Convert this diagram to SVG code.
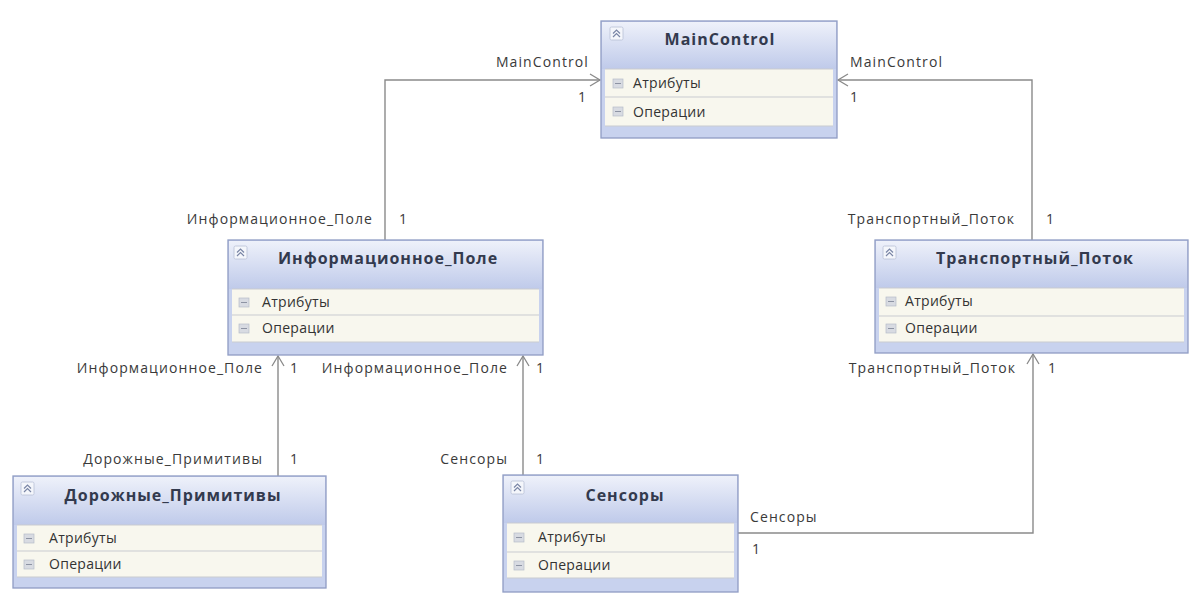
<svg xmlns="http://www.w3.org/2000/svg" width="1197" height="612" viewBox="0 0 1197 612">
<defs>
<linearGradient id="hdr" x1="0" y1="0" x2="0" y2="1">
<stop offset="0" stop-color="#eef1fa"/>
<stop offset="1" stop-color="#bfcaea"/>
</linearGradient>
<marker id="open" markerWidth="14" markerHeight="14" refX="11" refY="7" orient="auto" markerUnits="userSpaceOnUse">
<polyline points="1,1 11,7 1,13" fill="none" stroke="#8a8a8a" stroke-width="1.3"/>
</marker>
<g id="icon">
<rect x="0" y="0" width="13" height="13" rx="1.5" fill="#f4f6fb" stroke="#b8c0d6" stroke-width="0.8"/>
<polyline points="3,6.5 6.5,3 10,6.5" fill="none" stroke="#7a86a6" stroke-width="1.2"/>
<polyline points="3,10 6.5,6.5 10,10" fill="none" stroke="#7a86a6" stroke-width="1.2"/>
</g>
<g id="minus">
<rect x="0" y="0" width="10" height="9" fill="#d8dbe2" stroke="#b7bcc8" stroke-width="0.7"/>
<line x1="2" y1="4.5" x2="8" y2="4.5" stroke="#8d93a3" stroke-width="1"/>
</g>
</defs>
<style>
.frame{fill:#c8d2ee;stroke:#8f9cc4;stroke-width:1.3}
.hdr{fill:url(#hdr)}
.row{fill:#f8f7ee}
.sep{stroke:#c9cbd0;stroke-width:1}
.title{font-family:"Open Sans","DejaVu Sans",sans-serif;font-size:16px;font-weight:bold;letter-spacing:1px;fill:#333a4e;text-anchor:middle}
.item{font-family:"Open Sans","DejaVu Sans",sans-serif;font-size:14px;letter-spacing:0.3px;fill:#333}
.lbl{font-family:"Open Sans","DejaVu Sans",sans-serif;font-size:14px;letter-spacing:1.1px;fill:#3a3a3a}
.end{text-anchor:end}
.conn{fill:none;stroke:#8a8a8a;stroke-width:1.4}
</style>
<rect width="1197" height="612" fill="#ffffff"/>

<g id="connectors">
<path class="conn" d="M385,240 V80 H600" marker-end="url(#open)"/>
<path class="conn" d="M1032,240 V80 H838" marker-end="url(#open)"/>
<path class="conn" d="M278,476 V356" marker-end="url(#open)"/>
<path class="conn" d="M523,475 V356" marker-end="url(#open)"/>
<path class="conn" d="M738,533 H1033 V354" marker-end="url(#open)"/>
<text class="lbl end" x="589" y="67">MainControl</text>
<text class="lbl" x="578" y="102">1</text>
<text class="lbl" x="850" y="67">MainControl</text>
<text class="lbl" x="850" y="102">1</text>
<text class="lbl end" x="373" y="224">Информационное_Поле</text>
<text class="lbl" x="399" y="224">1</text>
<text class="lbl end" x="1015" y="224">Транспортный_Поток</text>
<text class="lbl" x="1046" y="224">1</text>
<text class="lbl end" x="263" y="373">Информационное_Поле</text>
<text class="lbl" x="290" y="373">1</text>
<text class="lbl end" x="508" y="373">Информационное_Поле</text>
<text class="lbl" x="536" y="373">1</text>
<text class="lbl end" x="1016" y="373">Транспортный_Поток</text>
<text class="lbl" x="1048" y="373">1</text>
<text class="lbl end" x="263" y="464">Дорожные_Примитивы</text>
<text class="lbl" x="290" y="464">1</text>
<text class="lbl end" x="508" y="464">Сенсоры</text>
<text class="lbl" x="536" y="464">1</text>
<text class="lbl" x="750" y="522">Сенсоры</text>
<text class="lbl" x="752" y="554">1</text>
</g>

<g id="MainControl" transform="translate(601,21)">
<rect class="frame" x="0" y="0" width="236" height="117"/>
<rect class="hdr" x="1" y="1" width="234" height="47"/>
<rect class="row" x="4" y="48" width="228" height="57"/>
<line class="sep" x1="4" y1="48" x2="232" y2="48"/>
<line class="sep" x1="4" y1="76" x2="232" y2="76"/>
<line class="sep" x1="4" y1="105" x2="232" y2="105"/>
<use href="#icon" x="9" y="6"/>
<text class="title" x="119" y="24">MainControl</text>
<use href="#minus" x="12" y="58"/>
<text class="item" x="32" y="67">Атрибуты</text>
<use href="#minus" x="12" y="86"/>
<text class="item" x="32" y="96">Операции</text>
</g>

<g id="Informatsionnoe_Pole" transform="translate(228,240)">
<rect class="frame" x="0" y="0" width="315" height="115"/>
<rect class="hdr" x="1" y="1" width="313" height="48"/>
<rect class="row" x="4" y="49" width="307" height="53"/>
<line class="sep" x1="4" y1="49" x2="311" y2="49"/>
<line class="sep" x1="4" y1="75" x2="311" y2="75"/>
<line class="sep" x1="4" y1="102" x2="311" y2="102"/>
<use href="#icon" x="6" y="6"/>
<text class="title" x="160" y="24">Информационное_Поле</text>
<use href="#minus" x="11" y="58"/>
<text class="item" x="34" y="67">Атрибуты</text>
<use href="#minus" x="11" y="84"/>
<text class="item" x="34" y="93">Операции</text>
</g>

<g id="Transportny_Potok" transform="translate(875,240)">
<rect class="frame" x="0" y="0" width="313" height="113"/>
<rect class="hdr" x="1" y="1" width="311" height="47"/>
<rect class="row" x="4" y="48" width="305" height="54"/>
<line class="sep" x1="4" y1="48" x2="309" y2="48"/>
<line class="sep" x1="4" y1="76" x2="309" y2="76"/>
<line class="sep" x1="4" y1="102" x2="309" y2="102"/>
<use href="#icon" x="8" y="6"/>
<text class="title" x="160" y="24">Транспортный_Поток</text>
<use href="#minus" x="11" y="57"/>
<text class="item" x="30" y="66">Атрибуты</text>
<use href="#minus" x="11" y="84"/>
<text class="item" x="30" y="93">Операции</text>
</g>

<g id="Dorozhnye_Primitivy" transform="translate(13,476)">
<rect class="frame" x="0" y="0" width="313" height="112"/>
<rect class="hdr" x="1" y="1" width="311" height="48"/>
<rect class="row" x="4" y="49" width="305" height="52"/>
<line class="sep" x1="4" y1="49" x2="309" y2="49"/>
<line class="sep" x1="4" y1="75" x2="309" y2="75"/>
<line class="sep" x1="4" y1="101" x2="309" y2="101"/>
<use href="#icon" x="8" y="6"/>
<text class="title" x="160" y="25">Дорожные_Примитивы</text>
<use href="#minus" x="11" y="58"/>
<text class="item" x="36" y="67">Атрибуты</text>
<use href="#minus" x="11" y="84"/>
<text class="item" x="36" y="93">Операции</text>
</g>

<g id="Sensory" transform="translate(503,475)">
<rect class="frame" x="0" y="0" width="235" height="117"/>
<rect class="hdr" x="1" y="1" width="233" height="47"/>
<rect class="row" x="4" y="48" width="227" height="55"/>
<line class="sep" x1="4" y1="48" x2="231" y2="48"/>
<line class="sep" x1="4" y1="77" x2="231" y2="77"/>
<line class="sep" x1="4" y1="103" x2="231" y2="103"/>
<use href="#icon" x="8" y="6"/>
<text class="title" x="122" y="26">Сенсоры</text>
<use href="#minus" x="11" y="58"/>
<text class="item" x="35" y="67">Атрибуты</text>
<use href="#minus" x="11" y="86"/>
<text class="item" x="35" y="95">Операции</text>
</g>
</svg>
